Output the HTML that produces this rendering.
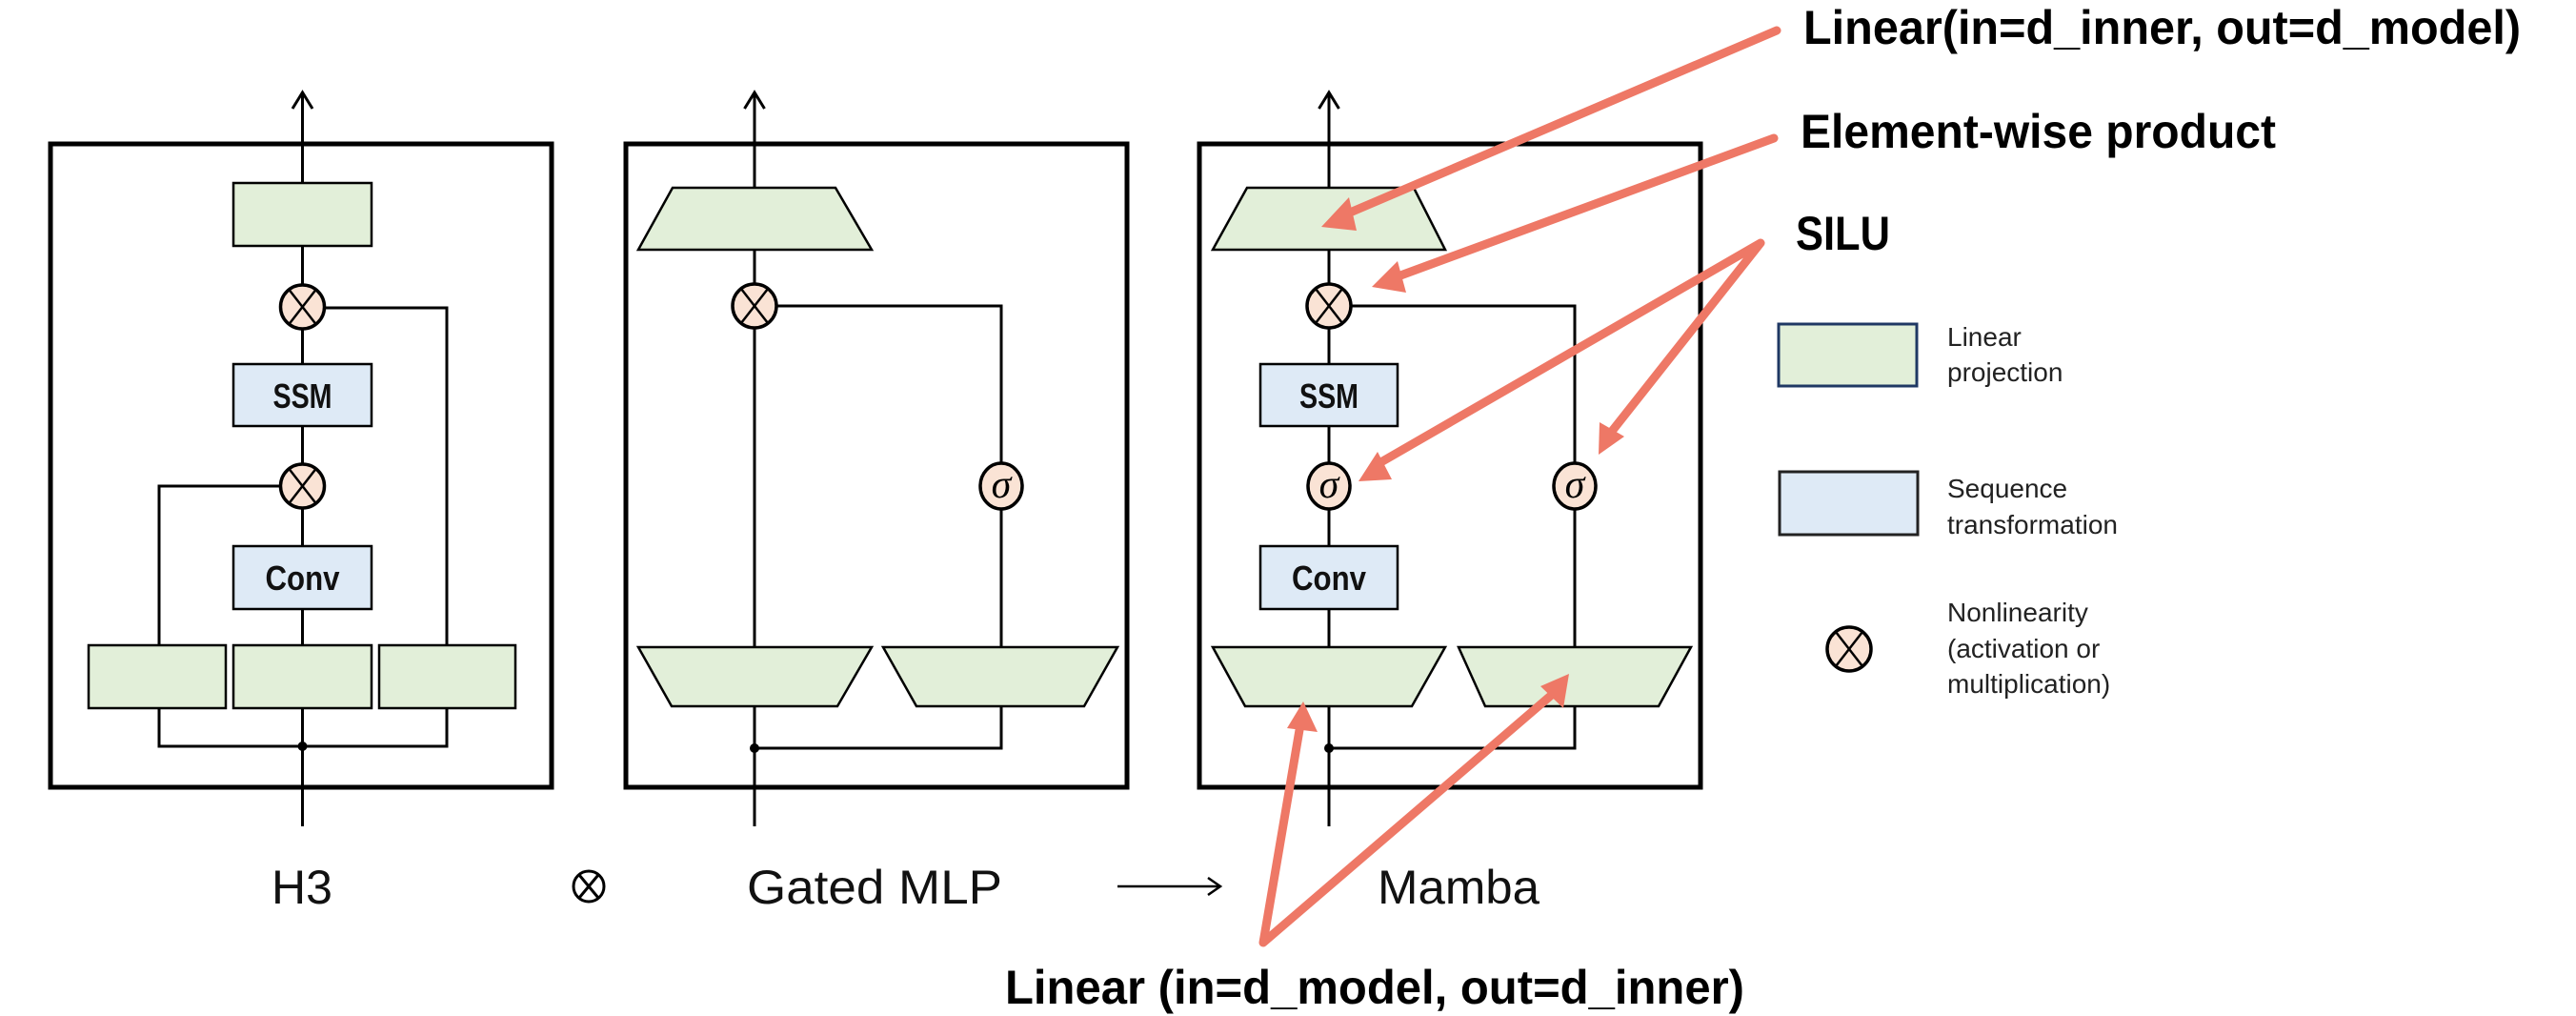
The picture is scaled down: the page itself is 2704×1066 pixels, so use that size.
<!DOCTYPE html>
<html><head><meta charset="utf-8"><style>
html,body{margin:0;padding:0;background:#fff;}
svg{display:block;}
</style></head><body>
<svg width="2704" height="1066" viewBox="0 0 2704 1066" xmlns="http://www.w3.org/2000/svg">
<defs>
<g id="ox">
<circle r="23" fill="#FAE3D5" stroke="#000" stroke-width="3.5"/>
<line x1="-14" y1="-18" x2="14" y2="18" stroke="#000" stroke-width="2.5"/>
<line x1="14" y1="-18" x2="-14" y2="18" stroke="#000" stroke-width="2.5"/>
</g>
<g id="sig">
<ellipse rx="22" ry="24" fill="#FAE3D5" stroke="#000" stroke-width="3.5"/>
<text x="0" y="12" text-anchor="middle" font-family="Liberation Serif, serif" font-style="italic" font-size="42" fill="#000">σ</text>
</g>
</defs>
<g fill="none" stroke="#000" stroke-width="3">
<rect x="53" y="151" width="526" height="675" stroke-width="5"/>
<line x1="317.5" y1="97" x2="317.5" y2="867"/>
<polyline points="307,114 317.5,97 328,114"/>
<polyline points="167,677 167,510 317,510"/>
<polyline points="317,323 469,323 469,677"/>
<polyline points="167,743 167,783 469,783 469,743"/>
<rect x="657" y="151" width="526" height="675" stroke-width="5"/>
<line x1="792" y1="97" x2="792" y2="867"/>
<polyline points="781.5,114 792,97 802.5,114"/>
<polyline points="792,321 1051,321 1051,679"/>
<polyline points="792,785 1051,785 1051,741"/>
<rect x="1259" y="151" width="526" height="675" stroke-width="5"/>
<line x1="1395" y1="97" x2="1395" y2="867"/>
<polyline points="1384.5,114 1395,97 1405.5,114"/>
<polyline points="1395,321 1653,321 1653,679"/>
<polyline points="1395,785 1653,785 1653,741"/>
<line x1="1173" y1="930" x2="1280" y2="930" stroke-width="2.5"/>
<polyline points="1268,921 1281,930 1268,939" stroke-width="2.5"/>
</g>
<g stroke="#000" stroke-width="2.5" fill="#E2EFD9">
<rect x="245" y="192" width="145" height="66"/>
<rect x="93" y="677" width="144" height="66"/>
<rect x="245" y="677" width="145" height="66"/>
<rect x="398" y="677" width="143" height="66"/>
<polygon points="706,197 877,197 915,262 670,262"/>
<polygon points="670,679 915,679 879,741 705,741"/>
<polygon points="927,679 1173,679 1138,741 962,741"/>
<polygon points="1309,197 1484,197 1517,262 1273,262"/>
<polygon points="1273,679 1517,679 1482,741 1307,741"/>
<polygon points="1531,679 1775,679 1741,741 1559,741"/>
</g>
<g stroke="#000" stroke-width="2.5" fill="#DEEAF6">
<rect x="245" y="382" width="145" height="65"/>
<rect x="245" y="573" width="145" height="66"/>
<rect x="1323" y="382" width="144" height="65"/>
<rect x="1323" y="573" width="144" height="66"/>
</g>
<g font-family="Liberation Sans, sans-serif" font-weight="bold" font-size="36" fill="#111" text-anchor="middle">
<text x="317.5" y="428" textLength="62" lengthAdjust="spacingAndGlyphs">SSM</text>
<text x="317.5" y="619" textLength="78" lengthAdjust="spacingAndGlyphs">Conv</text>
<text x="1395" y="428" textLength="62" lengthAdjust="spacingAndGlyphs">SSM</text>
<text x="1395" y="619" textLength="78" lengthAdjust="spacingAndGlyphs">Conv</text>
</g>
<circle cx="317.5" cy="783" r="5" fill="#000"/>
<circle cx="792" cy="785" r="5" fill="#000"/>
<circle cx="1395" cy="785" r="5" fill="#000"/>
<use href="#ox" x="317.5" y="322"/>
<use href="#ox" x="317.5" y="510"/>
<use href="#ox" x="792" y="321"/>
<use href="#sig" x="1051" y="510"/>
<use href="#ox" x="1395" y="321"/>
<use href="#sig" x="1395" y="510"/>
<use href="#sig" x="1653" y="510"/>
<g font-family="Liberation Sans, sans-serif" font-size="50" fill="#111" text-anchor="middle">
<text x="317" y="948">H3</text>
<text x="918" y="948" textLength="268" lengthAdjust="spacingAndGlyphs">Gated MLP</text>
<text x="1531" y="948" textLength="170" lengthAdjust="spacingAndGlyphs">Mamba</text>
</g>
<g transform="translate(618,930)">
<circle r="16" fill="none" stroke="#000" stroke-width="3"/>
<line x1="-10" y1="-12" x2="10" y2="12" stroke="#000" stroke-width="3"/>
<line x1="10" y1="-12" x2="-10" y2="12" stroke="#000" stroke-width="3"/>
</g>
<rect x="1867" y="340" width="145" height="65" fill="#E2EFD9" stroke="#1F3864" stroke-width="3"/>
<rect x="1868" y="495" width="145" height="66" fill="#DEEAF6" stroke="#222" stroke-width="3"/>
<use href="#ox" x="1941" y="681"/>
<g font-family="Liberation Sans, sans-serif" font-size="28" fill="#222">
<text x="2044" y="363">Linear</text>
<text x="2044" y="400">projection</text>
<text x="2044" y="522">Sequence</text>
<text x="2044" y="560">transformation</text>
<text x="2044" y="652">Nonlinearity</text>
<text x="2044" y="690">(activation or</text>
<text x="2044" y="727">multiplication)</text>
</g>
<g font-family="Liberation Sans, sans-serif" font-weight="bold" font-size="50" fill="#000">
<text x="1893" y="46" textLength="753" lengthAdjust="spacingAndGlyphs">Linear(in=d_inner, out=d_model)</text>
<text x="1890" y="155" textLength="499" lengthAdjust="spacingAndGlyphs">Element-wise product</text>
<text x="1885" y="262" textLength="99" lengthAdjust="spacingAndGlyphs">SILU</text>
<text x="1055" y="1053" textLength="776" lengthAdjust="spacingAndGlyphs">Linear (in=d_model, out=d_inner)</text>
</g>
<g stroke="#EE7866" stroke-width="9" fill="none" stroke-linecap="round" stroke-linejoin="round">
<line x1="1865" y1="32" x2="1410" y2="226"/>
<line x1="1862" y1="145" x2="1462" y2="292"/>
<polyline points="1446,487 1848,255 1690,455"/>
<polyline points="1365,760 1326,989 1630,728"/>
</g>
<g fill="#EE7866">
<polygon points="1387,238 1416,207 1424,242"/>
<polygon points="1440,301 1467,274 1476,307"/>
<polygon points="1426,505 1446,474 1461,503"/>
<polygon points="1678,477 1679,443 1705,458"/>
<polygon points="1368,736 1351,764 1383,768"/>
<polygon points="1647,707 1617,720 1641,743"/>
</g>
</svg>
</body></html>
